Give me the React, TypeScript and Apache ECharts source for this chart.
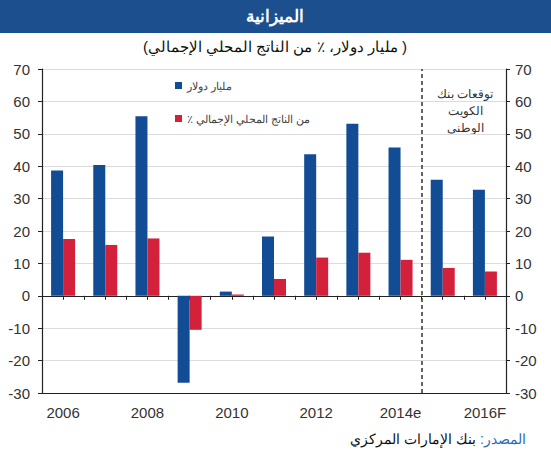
import React, { useEffect, useRef } from "react";
import * as echarts from "echarts";

const categories = ["2006", "2007", "2008", "2009", "2010", "2011", "2012", "2013", "2014e", "2015", "2016F"];
const budgetUsd = [38.7, 40.4, 55.4, -26.8, 1.3, 18.3, 43.7, 53.1, 45.8, 35.8, 32.7];
const budgetGdp = [17.5, 15.7, 17.7, -10.5, 0.4, 5.2, 11.8, 13.3, 11.1, 8.6, 7.5];
const seriesNames = ["مليار دولار", "٪ من الناتج المحلي الإجمالي"];
const titleText = "الميزانية";
const subtitleText = "(مليار دولار، ٪ من الناتج المحلي الإجمالي )";
const forecastNote = "توقعات بنك\nالكويت\nالوطني";
const sourceLabel = ":المصدر";
const sourceText = "بنك الإمارات المركزي ";
const halfSlots = 22;
const forecastBoundary = 18;

const FONT = "'Liberation Sans', Arial, sans-serif";

export default function App() {
  const ref = useRef<HTMLDivElement>(null);
  useEffect(() => {
    if (!ref.current) return;
    const chart = echarts.init(ref.current, null, { renderer: "svg" });
    const yAxisBase = {
      type: "value",
      min: -30,
      max: 70,
      interval: 10,
      axisLine: { show: true, lineStyle: { color: "#222", width: 1.2 } },
      axisTick: { show: true, length: 4, lineStyle: { color: "#222" } },
      axisLabel: { color: "#333", fontSize: 15, fontFamily: FONT },
    };
    chart.setOption({
      animation: false,
      backgroundColor: "#fff",
      textStyle: { fontFamily: FONT },
      grid: { left: 42, right: 45, top: 69, bottom: 57, containLabel: false },
      legend: {
        orient: "vertical",
        left: 170,
        top: 75,
        itemWidth: 7,
        itemHeight: 7,
        itemGap: 22,
        icon: "rect",
        textStyle: { color: "#444", fontSize: 11, fontFamily: FONT },
        data: seriesNames,
      },
      xAxis: [
        {
          type: "category",
          data: categories,
          position: "bottom",
          axisLine: { onZero: false, lineStyle: { color: "#222", width: 1.2 } },
          axisTick: { show: false },
          axisLabel: { interval: 1, color: "#333", fontSize: 15, margin: 12, fontFamily: FONT },
          splitLine: { show: false },
        },
        {
          type: "value",
          min: 0,
          max: halfSlots,
          interval: 1,
          position: "bottom",
          axisLine: { show: true, onZero: true, lineStyle: { color: "#222", width: 1.2 } },
          axisTick: { show: true, length: 4, lineStyle: { color: "#222" } },
          axisLabel: { show: false },
          splitLine: { show: false },
        },
      ],
      yAxis: [
        {
          ...yAxisBase,
          position: "left",
          axisLabel: { ...yAxisBase.axisLabel, margin: 12 },
          splitLine: { show: true, lineStyle: { color: "#dcdcdc", width: 1 } },
        },
        {
          ...yAxisBase,
          position: "right",
          axisLabel: { ...yAxisBase.axisLabel, margin: 9 },
          splitLine: { show: false },
        },
      ],
      series: [
        {
          name: seriesNames[0],
          type: "bar",
          data: budgetUsd,
          barWidth: 12,
          barGap: "0%",
          itemStyle: { color: "#114c94" },
        },
        {
          name: seriesNames[1],
          type: "bar",
          data: budgetGdp,
          barWidth: 12,
          barGap: "0%",
          itemStyle: { color: "#d4213b" },
        },
        {
          type: "line",
          xAxisIndex: 1,
          yAxisIndex: 0,
          data: [],
          silent: true,
          markLine: {
            symbol: "none",
            silent: true,
            label: { show: false },
            lineStyle: { color: "#333", type: [4, 3], width: 1.5 },
            data: [{ xAxis: forecastBoundary }],
          },
        },
      ],
      graphic: [
        {
          type: "rect",
          left: 0,
          top: 0,
          shape: { width: 551, height: 33 },
          style: { fill: "#1b4f8d" },
        },
        {
          type: "text",
          x: 275,
          y: 16,
          style: {
            text: titleText,
            fill: "#fff",
            font: `bold 17px ${FONT}`,
            textAlign: "center",
            textVerticalAlign: "middle",
          },
        },
        {
          type: "text",
          x: 275,
          y: 46,
          style: {
            text: subtitleText,
            fill: "#111",
            font: `15px ${FONT}`,
            textAlign: "center",
            textVerticalAlign: "middle",
          },
        },
        {
          type: "text",
          x: 465,
          y: 85,
          style: {
            text: forecastNote,
            fill: "#333",
            font: `12px ${FONT}`,
            lineHeight: 17,
            textAlign: "center",
            textVerticalAlign: "top",
          },
        },
        {
          type: "text",
          x: 526,
          y: 439,
          style: {
            text: `{b|${sourceText}}{a|${sourceLabel}}`,
            textAlign: "right",
            textVerticalAlign: "middle",
            rich: {
              a: { fill: "#2b6cb3", font: `14px ${FONT}` },
              b: { fill: "#111", font: `14px ${FONT}` },
            },
          },
        },
      ],
    });
    return () => chart.dispose();
  }, []);
  return <div ref={ref} style={{ width: 551, height: 450, position: "absolute", left: 0, top: 0 }} />;
}
